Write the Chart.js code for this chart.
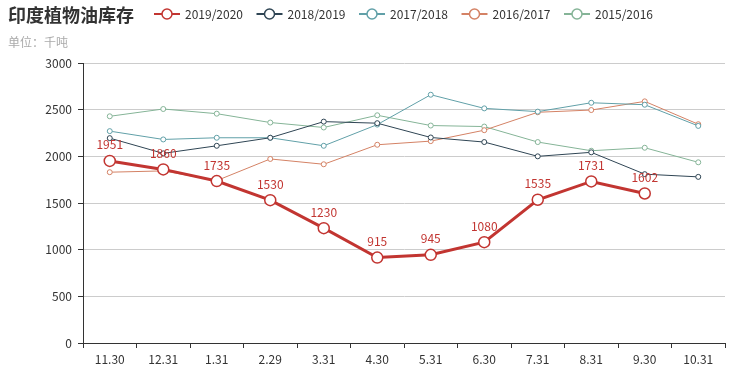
<!DOCTYPE html>
<html>
<head>
<meta charset="utf-8">
<script src="https://cdn.jsdelivr.net/npm/chart.js@4/dist/chart.umd.min.js"></script>
<style>
  html, body { margin: 0; padding: 0; background: #fff; }
  #wrap { width: 744px; height: 387px; position: relative; }
</style>
</head>
<body>
<div id="wrap"><canvas id="c"></canvas></div>
<script>
const labels = ['11.30', '12.31', '1.31', '2.29', '3.31', '4.30', '5.31', '6.30', '7.31', '8.31', '9.30', '10.31'];
const seriesNames = ['2019/2020', '2018/2019', '2017/2018', '2016/2017', '2015/2016'];
const colors = ['#c23531', '#2f4554', '#61a0a8', '#d48265', '#85b497'];

const s2019 = [1951, 1860, 1735, 1530, 1230, 915, 945, 1080, 1535, 1731, 1602, null];
const s2018 = [2195, 2032, 2113, 2199, 2372, 2355, 2202, 2153, 2000, 2043, 1809, 1780];
const s2017 = [2270, 2181, 2199, 2199, 2113, 2340, 2660, 2514, 2479, 2574, 2553, 2326];
const s2016 = [1830, 1844, 1740, 1972, 1915, 2124, 2163, 2280, 2472, 2496, 2589, 2344];
const s2015 = [2429, 2507, 2457, 2362, 2309, 2440, 2330, 2319, 2153, 2060, 2092, 1936];

const allSeries = [s2019, s2018, s2017, s2016, s2015];
const FONT = "'Microsoft YaHei', 'Noto Sans CJK SC', sans-serif";

const datasets = allSeries.map((data, i) => ({
  label: seriesNames[i],
  data: data,
  borderColor: colors[i],
  backgroundColor: '#fff',
  pointBackgroundColor: '#fff',
  pointBorderColor: colors[i],
  borderWidth: i === 0 ? 3 : 1,
  pointRadius: i === 0 ? 5.5 : 2.5,
  pointBorderWidth: i === 0 ? 1.5 : 1,
  tension: 0,
  fill: false
}));

// title, subtitle, legend and value labels
const decor = {
  id: 'decor',
  afterDatasetsDraw(chart) {
    const ctx = chart.ctx;
    ctx.save();
    // value labels for first series
    const meta = chart.getDatasetMeta(0);
    ctx.font = '12px ' + FONT;
    ctx.fillStyle = colors[0];
    ctx.textAlign = 'center';
    ctx.textBaseline = 'middle';
    meta.data.forEach((pt, i) => {
      const v = s2019[i];
      if (v == null) return;
      ctx.fillText(String(v), pt.x, pt.y - 16);
    });
    ctx.restore();
  },
  afterDraw(chart) {
    const ctx = chart.ctx;
    ctx.save();
    ctx.textBaseline = 'middle';
    ctx.textAlign = 'left';
    ctx.fillStyle = '#333';
    ctx.font = 'bold 18px ' + FONT;
    ctx.fillText('印度植物油库存', 8, 15);
    ctx.fillStyle = '#aaa';
    ctx.font = '12px ' + FONT;
    ctx.fillText('单位：千吨', 8, 42);

    // legend
    let x = 154;
    const y = 14;
    seriesNames.forEach((name, i) => {
      ctx.strokeStyle = colors[i];
      ctx.lineWidth = 2;
      ctx.beginPath();
      ctx.moveTo(x, y);
      ctx.lineTo(x + 26, y);
      ctx.stroke();
      ctx.beginPath();
      ctx.arc(x + 13, y, 5, 0, Math.PI * 2);
      ctx.fillStyle = '#fff';
      ctx.fill();
      ctx.lineWidth = 1.5;
      ctx.stroke();
      ctx.fillStyle = '#333';
      ctx.font = '12px ' + FONT;
      ctx.fillText(name, x + 31, y);
      x += 102.5;
    });
    ctx.restore();
  }
};

new Chart(document.getElementById('c'), {
  type: 'line',
  data: { labels: labels, datasets: datasets },
  options: {
    responsive: true,
    maintainAspectRatio: false,
    animation: false,
    layout: { padding: { top: 63, right: 19, left: 0, bottom: 0 } },
    plugins: {
      legend: { display: false },
      tooltip: { enabled: false }
    },
    scales: {
      x: {
        offset: true,
        afterFit(scale) { scale.height = 44; },
        grid: {
          offset: true,
          drawOnChartArea: false,
          drawTicks: true,
          tickLength: 5,
          tickColor: '#333'
        },
        border: { color: '#333', width: 1 },
        ticks: {
          color: '#333',
          font: { size: 12, family: FONT },
          padding: 4,
          maxRotation: 0,
          autoSkip: false
        }
      },
      y: {
        min: 0,
        max: 3000,
        afterFit(scale) { scale.width = 83; },
        grid: {
          color: '#ccc',
          tickColor: '#333',
          tickLength: 5
        },
        border: { color: '#333', width: 1 },
        ticks: {
          stepSize: 500,
          color: '#333',
          font: { size: 12, family: FONT },
          padding: 6,
          callback: (v) => String(v)
        }
      }
    }
  },
  plugins: [decor]
});
</script>
</body>
</html>
